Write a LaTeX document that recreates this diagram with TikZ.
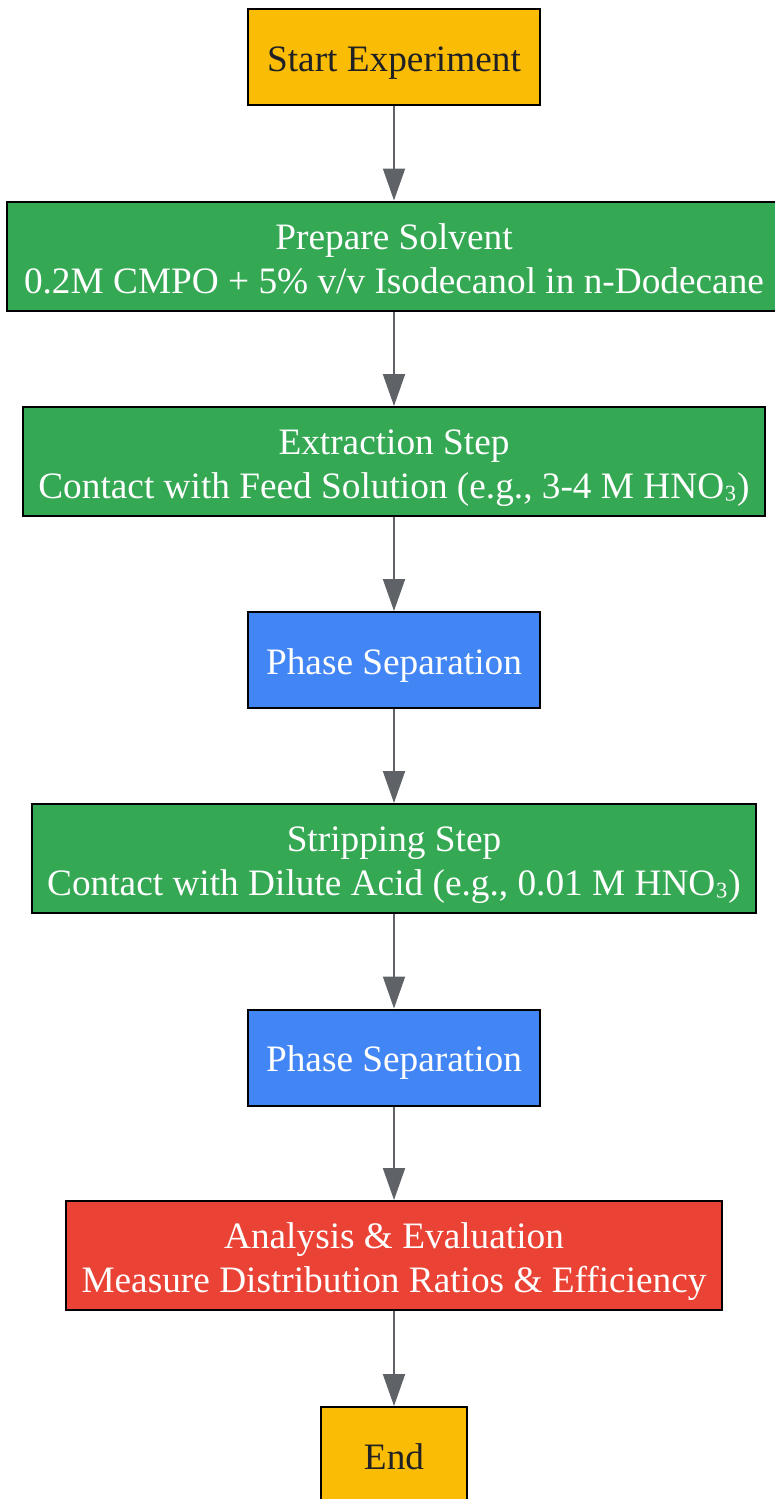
\documentclass[tikz,border=0pt]{standalone}
\usepackage{fontspec}
\setmainfont{Liberation Serif}
\usetikzlibrary{arrows.meta}
\definecolor{cyellow}{HTML}{FBBC05}
\definecolor{cgreen}{HTML}{34A853}
\definecolor{cblue}{HTML}{4285F4}
\definecolor{cred}{HTML}{EA4335}
\definecolor{carrow}{HTML}{5F6368}
\definecolor{cdark}{HTML}{202124}
\newcommand\mysubthree{\raisebox{0.13em}{₃}}
\tikzset{
  box/.style={draw=black, line width=2pt, rectangle, inner sep=0pt, align=center,
    font=\fontsize{37.3}{44}\selectfont},
  one/.style={text height=30pt, text depth=2pt},
  two/.style={text height=84pt, text depth=10pt},
  term/.style={box, one, fill=cyellow, text=cdark, minimum height=96pt},
  gbox/.style={box, two, fill=cgreen, text=white, minimum height=109pt},
  bbox/.style={box, one, fill=cblue, text=white, minimum height=96pt, minimum width=292pt},
  rbox/.style={box, two, fill=cred, text=white, minimum height=109pt},
  conn/.style={draw=carrow, line width=2pt, -{Triangle[length=32pt, width=22pt]}}
}
\begin{document}
\begin{tikzpicture}[x=1pt, y=-1pt]
\useasboundingbox (0,0) rectangle (775,1499);
\clip (0,0) rectangle (775,1499);
\node[term, minimum width=292pt] (start) at (394,57) {Start Experiment};
\node[gbox, minimum width=774pt] (prep) at (394,256) {Prepare Solvent\\0.2M CMPO + 5\% v/v Isodecanol in n-Dodecane};
\node[gbox, minimum width=742pt] (extr) at (394,461.5) {Extraction Step\\Contact with Feed Solution (e.g., 3-4 M HNO\mysubthree)};
\node[bbox] (ps1) at (394,660) {Phase Separation};
\node[gbox, minimum width=724pt] (strip) at (394,858.5) {Stripping Step\\Contact with Dilute Acid (e.g., 0.01 M HNO\mysubthree)};
\node[bbox] (ps2) at (394,1057.5) {Phase Separation};
\node[rbox, minimum width=656pt] (anal) at (394,1255.5) {Analysis \& Evaluation\\Measure Distribution Ratios \& Efficiency};
\node[term, minimum width=146pt] (end) at (394,1455) {End};
\draw[conn] (start) -- (prep);
\draw[conn] (prep) -- (extr);
\draw[conn] (extr) -- (ps1);
\draw[conn] (ps1) -- (strip);
\draw[conn] (strip) -- (ps2);
\draw[conn] (ps2) -- (anal);
\draw[conn] (anal) -- (end);
\end{tikzpicture}
\end{document}
